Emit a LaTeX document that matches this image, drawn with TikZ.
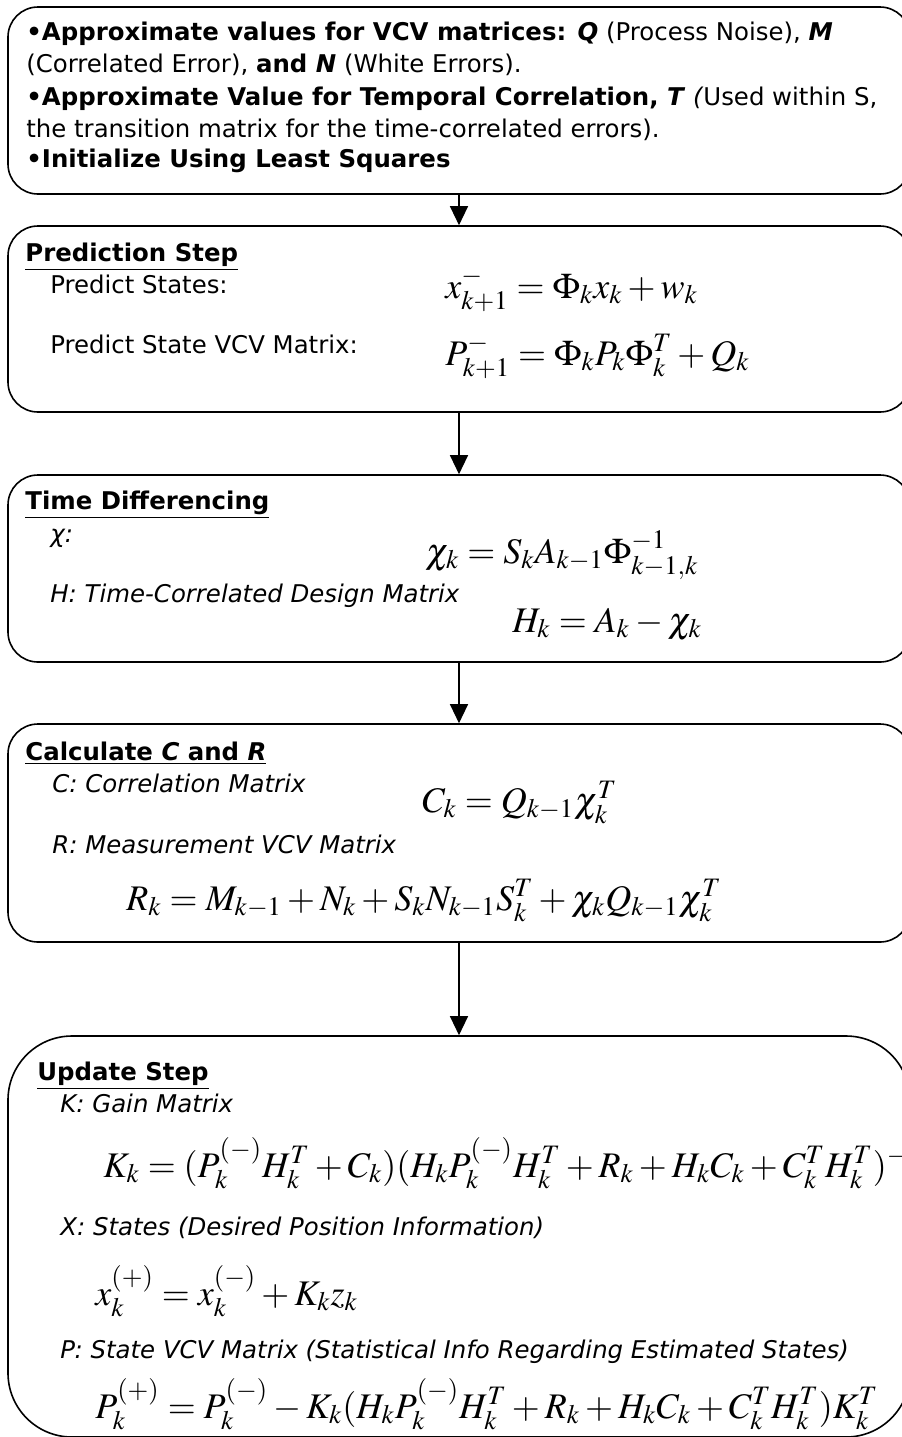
\documentclass[tikz,border=0pt]{standalone}
\usepackage{mathptmx}
\usepackage[no-math]{fontspec}
\setmainfont{DejaVu Sans}
\usetikzlibrary{arrows.meta}

\tikzset{
  box/.style={draw, line width=0.8pt, rounded corners=15pt, minimum width=451pt, inner sep=0pt},
  txt/.style={anchor=base west, inner sep=0pt, font=\fontsize{12.2}{14}\selectfont},
  lbl/.style={txt, font=\fontsize{12.2}{14}\selectfont\itshape},
  eqn/.style={anchor=base west, inner sep=0pt, font=\fontsize{18}{21}\selectfont},
  flow/.style={line width=0.6pt, -{Triangle[length=9.5pt, width=9pt]}}
}
\newcommand{\bi}[1]{\textbf{\textit{#1}}}

\begin{document}
\begin{tikzpicture}[x=0.5pt, y=-0.5pt]
    \useasboundingbox (0,0) rectangle (901,1437);
    % the five boxes
    \node[box, minimum height=93.5pt] (init) at (459,100.5) {};
    \node[box, minimum height=93pt] (predict) at (459,319) {};
    \node[box, minimum height=93.5pt] (timediff) at (459,568.5) {};
    \node[box, minimum height=109pt] (calc) at (459,833) {};
    \node[box, minimum height=200.5pt, rounded corners=32pt] (update) at (459,1236.5) {};
    \draw[flow] (init) -- (predict);
    \draw[flow] (predict) -- (timediff);
    \draw[flow] (timediff) -- (calc);
    \draw[flow] (calc) -- (update);
    % initialisation
    \node[txt] (i1) at (26,40) {\textbf{•Approximate values for VCV matrices: \bi{Q}} (Process Noise), \bi{M}};
    \node[txt] (i2) at (26,72) {(Correlated Error), \textbf{and \bi{N}} (White Errors).};
    \node[txt] (i3) at (26,105) {\textbf{•Approximate Value for Temporal Correlation, \bi{T}} \textit{(}Used within S,};
    \node[txt] (i4) at (26,137) {the transition matrix for the time-correlated errors).};
    \node[txt] (i5) at (26,167) {\textbf{•Initialize Using Least Squares}};
    % prediction
    \node[txt] (p0) at (25,261) {\underline{\textbf{Prediction Step}}};
    \node[txt] (p1) at (50,293) {Predict States:};
    \node[eqn] (p2) at (445,298) {$x_{k+1}^{-}=\Phi_k x_k+w_k$};
    \node[txt] (p3) at (50,353) {Predict State VCV Matrix:};
    \node[eqn] (p4) at (445,365) {$P_{k+1}^{-}=\Phi_k P_k\Phi_k^{T}+Q_k$};
    % time differencing
    \node[txt] (t0) at (25,509) {\underline{\textbf{Time Differencing}}};
    \node[lbl] (t1) at (50,542) {χ:};
    \node[eqn] (t2) at (425,563) {$\chi_k=S_kA_{k-1}\Phi_{k-1,k}^{-1}$};
    \node[lbl] (t3) at (50,602) {H: Time-Correlated Design Matrix};
    \node[eqn] (t4) at (512,632) {$H_k=A_k-\chi_k$};
    % C and R
    \node[txt] (c0) at (25,760) {\underline{\textbf{Calculate \bi{C} and \bi{R}}}};
    \node[lbl] (c1) at (52,792) {C: Correlation Matrix};
    \node[eqn] (c2) at (422,812) {$C_k=Q_{k-1}\chi_k^{T}$};
    \node[lbl] (c3) at (52,853) {R: Measurement VCV Matrix};
    \node[eqn] (c4) at (126,910) {$R_k=M_{k-1}+N_k+S_kN_{k-1}S_k^{T}+\chi_kQ_{k-1}\chi_k^{T}$};
    % update
    \node[txt] (u0) at (37,1080) {\underline{\textbf{Update Step}}};
    \node[lbl] (u1) at (60,1112) {K: Gain Matrix};
    \node[eqn] (u2) at (103,1177) {$K_k=(P_k^{(-)}H_k^{T}+C_k)(H_kP_k^{(-)}H_k^{T}+R_k+H_kC_k+C_k^{T}H_k^{T})^{-1}$};
    \node[lbl] (u3) at (60,1235) {X: States (Desired Position Information)};
    \node[eqn] (u4) at (95,1305) {$x_k^{(+)}=x_k^{(-)}+K_kz_k$};
    \node[lbl] (u5) at (60,1358) {P: State VCV Matrix (Statistical Info Regarding Estimated States)};
    \node[eqn] (u6) at (95,1418) {$P_k^{(+)}=P_k^{(-)}-K_k(H_kP_k^{(-)}H_k^{T}+R_k+H_kC_k+C_k^{T}H_k^{T})K_k^{T}$};
\end{tikzpicture}
\end{document}
